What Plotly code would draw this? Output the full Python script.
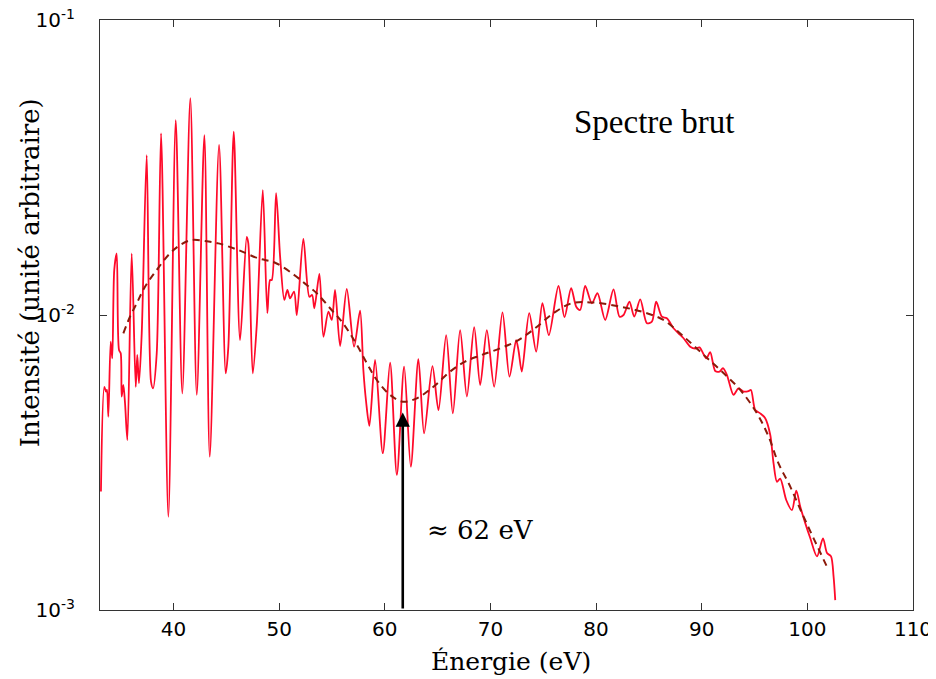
import math
import plotly.graph_objects as go

# raw spectrum (eV, arbitrary intensity)
energie = [
    33.13, 33.45, 33.61, 33.70, 33.83, 34.05, 34.20, 34.39, 34.62, 34.84,
    35.00, 35.09, 35.25, 35.41, 35.63, 36.04, 36.42, 36.57, 36.73, 36.99,
    37.46, 37.87, 38.06, 38.41, 38.82, 39.51, 40.21, 40.83, 41.59, 42.20,
    42.92, 43.43, 44.31, 44.94, 45.19, 45.70, 46.30, 46.93, 47.08, 47.50,
    47.88, 48.45, 48.88, 49.14, 49.30, 49.71, 50.09, 50.49, 50.78, 51.03,
    51.41, 51.67, 52.29, 52.86, 53.12, 53.33, 53.81, 54.19, 54.66, 54.98,
    55.29, 55.77, 56.40, 57.09, 57.66, 57.97, 58.23, 58.54, 59.08, 59.81,
    60.50, 61.14, 61.83, 62.46, 63.18, 63.72, 64.51, 65.08, 65.81, 66.44,
    67.13, 67.77, 68.46, 69.03, 69.66, 70.35, 71.14, 71.80, 72.43, 72.65,
    72.97, 73.67, 74.33, 74.92, 75.53, 76.44, 77.01, 77.64, 78.12, 78.49,
    78.97, 79.60, 80.13, 80.86, 81.65, 82.22, 82.60, 83.16, 83.61, 84.18,
    84.81, 85.28, 85.69, 86.23, 86.70, 87.33, 87.80, 88.28, 88.91, 89.38,
    89.79, 90.43, 90.80, 91.28, 91.69, 92.01, 92.39, 93.01, 93.48, 93.96,
    94.43, 94.66, 95.07, 95.54, 96.01, 96.49, 96.80, 97.12, 97.43, 98.00,
    98.54, 98.95, 99.33, 99.80, 100.28, 100.91, 101.48, 101.86, 102.24, 102.48,
    102.64,
]
intensite = [
    0.00252, 0.00571, 0.00550, 0.00557, 0.00452, 0.00812, 0.00713, 0.01422, 0.01618, 0.00761,
    0.00742, 0.00529, 0.00579, 0.00502, 0.00377, 0.01618, 0.00571, 0.00732, 0.00587, 0.00867,
    0.0348, 0.00594, 0.00564, 0.00742, 0.0413, 0.00207, 0.0458, 0.00543, 0.0543, 0.00536,
    0.0407, 0.00331, 0.0377, 0.00634, 0.00781, 0.0418, 0.00822, 0.0184, 0.0175, 0.00634,
    0.00925, 0.0265, 0.01014, 0.01314, 0.01314, 0.0259, 0.01578, 0.01125, 0.01216, 0.01139,
    0.01200, 0.0100, 0.0181, 0.01153, 0.01169, 0.01054, 0.01377, 0.00844, 0.01026, 0.00962,
    0.01216, 0.00785, 0.01225, 0.00781, 0.01035, 0.00651, 0.00508, 0.00421, 0.00704, 0.00340,
    0.00689, 0.00287, 0.00668, 0.00306, 0.00708, 0.00397, 0.00671, 0.00476, 0.00855, 0.00464,
    0.00889, 0.00529, 0.00910, 0.00579, 0.00889, 0.00571, 0.01021, 0.00618, 0.00822, 0.00761,
    0.00643, 0.01014, 0.00751, 0.01096, 0.00855, 0.01254, 0.00983, 0.01233, 0.01067, 0.01040,
    0.01254, 0.01096, 0.01185, 0.00962, 0.01222, 0.00987, 0.0100, 0.01109, 0.00987, 0.01130,
    0.00938, 0.00949, 0.01109, 0.00987, 0.00975, 0.00902, 0.00867, 0.00834, 0.00781, 0.00769,
    0.00777, 0.00713, 0.00748, 0.00646, 0.00643, 0.00660, 0.00626, 0.00536, 0.00564, 0.00550,
    0.00552, 0.00557, 0.00476, 0.00464, 0.00447, 0.00392, 0.00314, 0.00272, 0.00279, 0.00236,
    0.00218, 0.00254, 0.00224, 0.00197, 0.00175, 0.00152, 0.00175, 0.00156, 0.00152, 0.00130,
    0.00108,
]

# smooth background (dashed)
energie_fond = [
    35.25, 35.88, 36.52, 37.30, 38.41, 39.67, 40.62, 41.72, 42.98, 44.24,
    46.14, 48.03, 49.61, 51.41, 52.61, 53.56, 54.82, 55.93, 57.19, 58.30,
    59.24, 60.50, 61.70, 63.03, 64.60, 66.18, 67.60, 69.03, 70.92, 72.65,
    74.23, 75.97, 77.71, 79.91, 82.28, 84.34, 86.38, 88.13, 90.02, 91.91,
    93.65, 95.23, 96.33, 97.27, 98.38, 99.49, 100.59, 101.86,
]
intensite_fond = [
    0.00867, 0.00987, 0.01096, 0.01247, 0.01422, 0.01618, 0.01726, 0.01795, 0.01781, 0.01749,
    0.01660, 0.01556, 0.01504, 0.01368, 0.01264, 0.01185, 0.01054, 0.00949, 0.00811, 0.00686,
    0.00602, 0.00536, 0.00508, 0.00522, 0.00571, 0.00643, 0.00695, 0.00729, 0.00771, 0.00822,
    0.00902, 0.01014, 0.01096, 0.01101, 0.01067, 0.01026, 0.00962, 0.00855, 0.00742, 0.00643,
    0.00557, 0.00464, 0.00387, 0.00314, 0.00262, 0.00213, 0.00175, 0.00140,
]

x_ticks = [40, 50, 60, 70, 80, 90, 100, 110]
y_ticks = [0.001, 0.01, 0.1]
y_ticktext = ["10<sup>-3</sup>", "10<sup>-2</sup>", "10<sup>-1</sup>"]

minimum_x = 61.7
minimum_y = 0.00467

fig = go.Figure()
fig.add_trace(go.Scatter(
    x=energie, y=intensite, mode="lines",
    line=dict(color="#ff0a2a", width=1.8, shape="spline", smoothing=0.8),
    showlegend=False,
))
fig.add_trace(go.Scatter(
    x=energie_fond, y=intensite_fond, mode="lines",
    line=dict(color="#8b1a0a", width=2, dash="7px,5px", shape="spline"),
    showlegend=False,
))

serif = "DejaVu Serif"
fig.add_annotation(
    x=minimum_x, y=math.log10(minimum_y), ax=minimum_x, ay=-3,
    xref="x", yref="y", axref="x", ayref="y",
    text="", showarrow=True, arrowhead=2, arrowsize=1.1, arrowwidth=2.6,
    arrowcolor="black",
)
fig.add_annotation(
    x=69.03, y=-2.729, xref="x", yref="y", showarrow=False,
    xanchor="center", yanchor="middle",
    text="≈ 62 eV", font=dict(family=serif, size=26, color="black"),
)
fig.add_annotation(
    x=0.681, y=0.827, xref="paper", yref="paper", showarrow=False,
    xanchor="center", yanchor="middle",
    text="Spectre brut", font=dict(family="Liberation Serif", size=33, color="black"),
)
fig.add_annotation(
    x=0.505, y=-0.088, xref="paper", yref="paper", showarrow=False,
    xanchor="center", yanchor="middle",
    text="Énergie (eV)", font=dict(family=serif, size=25, color="black"),
)
fig.add_annotation(
    x=-0.086, y=0.571, xref="paper", yref="paper", showarrow=False, textangle=-90,
    xanchor="center", yanchor="middle",
    text="Intensité (unité arbitraire)", font=dict(family=serif, size=26, color="black"),
)

axis_style = dict(
    showline=True, linecolor="#333", linewidth=1, mirror="ticks",
    ticks="inside", ticklen=7, tickcolor="#333", showgrid=False, zeroline=False,
    tickfont=dict(family="DejaVu Sans", size=20, color="black"),
    automargin=False, ticklabeloverflow="allow",
)
fig.update_xaxes(range=[33.04, 110], tickvals=x_ticks, ticklabelstandoff=1, **axis_style)
fig.update_yaxes(type="log", range=[-3, -1], tickvals=y_ticks, ticktext=y_ticktext,
                 ticklabelstandoff=20, **axis_style)

# page body keeps its default 8px margin, so margins are shifted by that amount
fig.update_layout(
    width=928, height=671,
    margin=dict(l=92, r=23, t=12, b=69),
    plot_bgcolor="white", paper_bgcolor="white",
)

fig.write_html("out.html")
